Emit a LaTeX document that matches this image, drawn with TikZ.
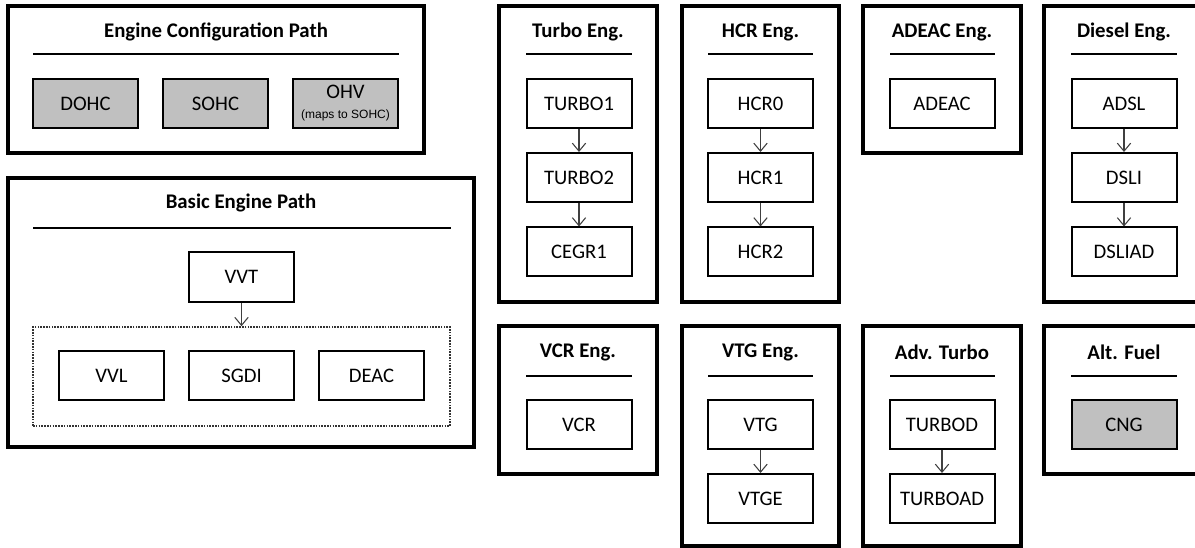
\documentclass[tikz,border=0pt]{standalone}
\usepackage{fontspec}
\setmainfont{Carlito}
\newfontfamily\arialf{Liberation Sans}
\usetikzlibrary{arrows.meta,fit}
\definecolor{boxgrey}{RGB}{192,192,192}
\definecolor{arrgrey}{RGB}{64,64,64}
\tikzset{
  outerbox/.style={draw=black, line width=2.4pt, inner sep=0pt},
  titletxt/.style={font=\fontsize{15.6}{18}\selectfont\bfseries, inner sep=0pt},
  rulel/.style={line width=1.6pt},
  item/.style={draw=black, line width=1.5pt, minimum width=78.75pt, minimum height=36.75pt, inner sep=0pt, font=\fontsize{15.5}{18}\selectfont, fill=white},
  greyitem/.style={item, fill=boxgrey},
  groupbox/.style={draw=black!80, line width=1.2pt, dash pattern=on 1.2pt off 0.9pt, inner sep=0pt},
  flow/.style={draw=arrgrey, line width=0.8pt, -{Straight Barb[length=6pt,width=10pt]}}
}
\begin{document}
\begin{tikzpicture}[x=0.75pt,y=-0.75pt]
\useasboundingbox (0,0) rectangle (1195,548);
\clip (0,0) rectangle (1195,548);

% ---------- Engine Configuration Path ----------
\node[outerbox, fit={(8,6) (424,153)}] (cfg) {};
\node[titletxt] (cfgT) at (216,32) {Engine Configuration Path};
\draw[rulel] (33,54) -- (399,54);
\node[greyitem] (dohc) at (85.5,103.5) {DOHC};
\node[greyitem] (sohc) at (215.5,103.5) {SOHC};
\node[greyitem, align=center] (ohv) at (345.5,103.5) {OHV\\[-3pt]{\arialf\fontsize{9}{10}\selectfont (maps to SOHC)}};

% ---------- Basic Engine Path ----------
\node[outerbox, fit={(8,178) (474,447)}] (basic) {};
\node[titletxt] (basicT) at (241,203) {Basic Engine Path};
\draw[rulel] (33,228) -- (451,228);
\node[item, minimum height=37.5pt] (vvt) at (241.5,277) {VVT};
\node[groupbox, fit={(33,327) (450,426)}] (grp) {};
\node[item] (vvl) at (111.5,376) {VVL};
\node[item] (sgdi) at (241.5,376) {SGDI};
\node[item] (deac) at (371.5,376) {DEAC};
\draw[flow] (vvt.south) -- (vvt.south |- grp.north);

% ---------- Turbo Eng. ----------
\node[outerbox, fit={(499,6) (657,302)}] (turbo) {};
\node[titletxt] (turboT) at (578,32) {Turbo Eng.};
\draw[rulel] (526,54) -- (632,54);
\node[item] (t1) at (579,103.5) {TURBO1};
\node[item] (t2) at (579,177.5) {TURBO2};
\node[item] (cegr) at (579,252) {CEGR1};
\draw[flow] (t1) -- (t2);
\draw[flow] (t2) -- (cegr);

% ---------- HCR Eng. ----------
\node[outerbox, fit={(682,6) (839,302)}] (hcr) {};
\node[titletxt] (hcrT) at (760.5,32) {HCR Eng.};
\draw[rulel] (708,54) -- (813,54);
\node[item] (h0) at (760.5,103.5) {HCR0};
\node[item] (h1) at (760.5,177.5) {HCR1};
\node[item] (h2) at (760.5,252) {HCR2};
\draw[flow] (h0) -- (h1);
\draw[flow] (h1) -- (h2);

% ---------- ADEAC Eng. ----------
\node[outerbox, fit={(863,6) (1021,153)}] (adeacB) {};
\node[titletxt] (adeacT) at (942,32) {ADEAC Eng.};
\draw[rulel] (890,54) -- (995,54);
\node[item] (adeac) at (942,103.5) {ADEAC};

% ---------- Diesel Eng. ----------
\node[outerbox, fit={(1044,6) (1203,302)}] (diesel) {};
\node[titletxt] (dieselT) at (1124,32) {Diesel Eng.};
\draw[rulel] (1071,54) -- (1177,54);
\node[item] (adsl) at (1124,103.5) {ADSL};
\node[item] (dsli) at (1124,177.5) {DSLI};
\node[item] (dsliad) at (1124,252) {DSLIAD};
\draw[flow] (adsl) -- (dsli);
\draw[flow] (dsli) -- (dsliad);

% ---------- VCR Eng. ----------
\node[outerbox, fit={(499,326) (657,474)}] (vcrB) {};
\node[titletxt] (vcrT) at (578,352) {VCR Eng.};
\draw[rulel] (526,376) -- (632,376);
\node[item] (vcr) at (579,425) {VCR};

% ---------- VTG Eng. ----------
\node[outerbox, fit={(682,326) (839,546)}] (vtgB) {};
\node[titletxt] (vtgT) at (760.5,352) {VTG Eng.};
\draw[rulel] (708,376) -- (813,376);
\node[item] (vtg) at (760.5,425) {VTG};
\node[item] (vtge) at (760.5,498.5) {VTGE};
\draw[flow] (vtg) -- (vtge);

% ---------- Adv. Turbo ----------
\node[outerbox, fit={(863,326) (1021,546)}] (advB) {};
\node[titletxt] (advT) at (942,352) {Adv. Turbo};
\draw[rulel] (890,376) -- (995,376);
\node[item] (turbod) at (942,425) {TURBOD};
\node[item] (turboad) at (942,498.5) {TURBOAD};
\draw[flow] (turbod) -- (turboad);

% ---------- Alt. Fuel ----------
\node[outerbox, fit={(1044,326) (1203,474)}] (altB) {};
\node[titletxt] (altT) at (1124,352) {Alt. Fuel};
\draw[rulel] (1071,376) -- (1177,376);
\node[greyitem] (cng) at (1124,425) {CNG};
\end{tikzpicture}
\end{document}
